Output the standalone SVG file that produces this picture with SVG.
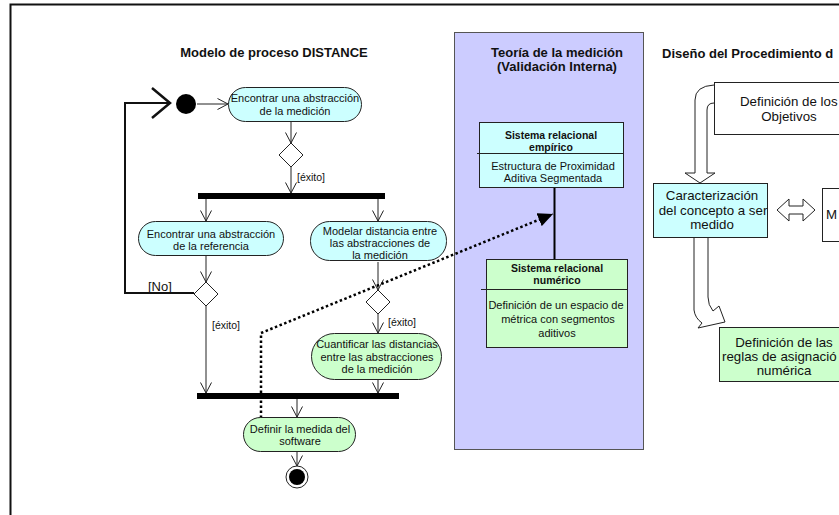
<svg xmlns="http://www.w3.org/2000/svg" width="839" height="515" viewBox="0 0 839 515">
  <style>
    text { font-family: "Liberation Sans", Arial, sans-serif; fill: #111; }
    .title { font-size: 13px; font-weight: bold; }
    .act { font-size: 11px; text-anchor: middle; }
    .guard { font-size: 10.5px; }
    .cls-h { font-size: 10.5px; font-weight: bold; text-anchor: middle; }
    .cls-b { font-size: 11px; text-anchor: middle; }
    .big { font-size: 13.3px; text-anchor: middle; }
    .cyan { fill: #ccffff; stroke: #222; stroke-width: 1; }
    .green { fill: #ccffcc; stroke: #222; stroke-width: 1; }
    .white { fill: #ffffff; stroke: #222; stroke-width: 1; }
    .flow { fill: none; stroke: #222; stroke-width: 1; marker-end: url(#open); }
    .block { fill: #ffffff; stroke: #222; stroke-width: 1; }
  </style>
  <defs>
    <marker id="open" viewBox="0 0 12 12" refX="11.5" refY="6" markerWidth="12" markerHeight="12" markerUnits="userSpaceOnUse" orient="auto">
      <path d="M1,0.5 L11.5,6 L1,11.5" fill="none" stroke="#222" stroke-width="1"/>
    </marker>
    <marker id="solid" viewBox="0 0 16 14" refX="15" refY="7" markerWidth="16" markerHeight="14" markerUnits="userSpaceOnUse" orient="auto">
      <path d="M0,0 L15,7 L0,14 Z" fill="#000"/>
    </marker>
  </defs>

  <!-- outer frame -->
  <rect x="10.5" y="4.5" width="900" height="600" fill="#ffffff" stroke="#111" stroke-width="2"/>

  <!-- measurement theory lane -->
  <rect id="lane-teoria" x="454.5" y="32.5" width="189" height="417" fill="#ccccff" stroke="#555" stroke-width="1"/>

  <!-- section titles -->
  <text class="title" x="274" y="57" text-anchor="middle">Modelo de proceso DISTANCE</text>
  <text class="title" x="557" y="57" text-anchor="middle">Teoría de la medición</text>
  <text class="title" x="557" y="71" text-anchor="middle">(Validación Interna)</text>
  <text class="title" x="662" y="58">Diseño del Procedimiento d</text>

  <!-- connectors -->
  <g id="connectors">
    <path class="flow" d="M197,104 L228,104"/>
    <path class="flow" d="M291,121 L291,143"/>
    <path class="flow" d="M291,167 L291,193"/>
    <path class="flow" d="M206,199 L206,221"/>
    <path class="flow" d="M378,199 L378,221"/>
    <path class="flow" d="M206,255 L206,282"/>
    <path class="flow" d="M378,262 L378,290"/>
    <path class="flow" d="M206,306 L206,393"/>
    <path class="flow" d="M378,314 L378,333"/>
    <path class="flow" d="M378,379 L378,393"/>
    <path class="flow" d="M297,399 L297,417"/>
    <path class="flow" d="M297,451 L297,466"/>
    <!-- [No] loop back to the start -->
    <path d="M194,293 L125,293 L125,103 L170,103" fill="none" stroke="#111" stroke-width="2"/>
    <path d="M152,88 L170,103 L152,118" fill="none" stroke="#111" stroke-width="2.5"/>
    <!-- link between software measure and numeric system -->
    <path d="M261,418 L261,333 L553,214" fill="none" stroke="#000" stroke-width="2.5" stroke-dasharray="2.5 2.5" marker-end="url(#solid)"/>
    <!-- link between the two relational systems -->
    <path d="M554.5,187 L554.5,259" stroke="#000" stroke-width="2"/>
    <!-- block arrows of the procedure design -->
    <path class="block" d="M714,85 Q695,86 695,100 L695,173 L685,173 L700,183 L715,173 L707,173 L707,110 Q707,103 714,103"/>
    <path class="block" d="M694,237 L694,310 Q695,318 702,323 L698,328 L725,322 L719,306 L713,311 Q708,305 708,297 L708,237"/>
    <path class="block" d="M777,210 L789,199 L789,206 L803,206 L803,199 L815,210 L803,221 L803,214 L789,214 L789,221 Z"/>
  </g>

  <!-- activity nodes -->
  <g id="inicio">
    <circle cx="186" cy="104" r="10" fill="#000"/>
  </g>
  <g id="act-abstraccion-medicion">
    <rect class="cyan" x="228.5" y="87.5" width="133" height="34" rx="17"/>
    <text class="act" x="295" y="102">Encontrar una abstracción</text>
    <text class="act" x="295" y="115">de la medición</text>
  </g>
  <g id="decision-1">
    <path class="white" d="M291,143 L303,155 L291,167 L279,155 Z"/>
    <text class="guard" x="297" y="181">[éxito]</text>
  </g>
  <g id="fork">
    <rect x="198" y="193" width="187" height="6" fill="#000"/>
  </g>
  <g id="act-abstraccion-referencia">
    <rect class="cyan" x="138.5" y="221.5" width="145" height="34" rx="17"/>
    <text class="act" x="211" y="238">Encontrar una abstracción</text>
    <text class="act" x="211" y="250">de la referencia</text>
  </g>
  <g id="act-modelar-distancia">
    <rect class="cyan" x="310.5" y="221.5" width="136" height="39" rx="19"/>
    <text class="act" x="380" y="235">Modelar distancia entre</text>
    <text class="act" x="380" y="247">las abstracciones de</text>
    <text class="act" x="380" y="259">la medición</text>
  </g>
  <g id="decision-2">
    <path class="white" d="M206,282 L218,294 L206,306 L194,294 Z"/>
    <text x="148" y="291" style="font-size:13px">[No]</text>
    <text class="guard" x="212" y="329">[éxito]</text>
  </g>
  <g id="decision-3">
    <path class="white" d="M378,290 L390,302 L378,314 L366,302 Z"/>
    <text class="guard" x="388" y="326">[éxito]</text>
  </g>
  <g id="act-cuantificar">
    <rect class="green" x="311.5" y="333.5" width="130" height="46" rx="23"/>
    <text class="act" x="377" y="348">Cuantificar las distancias</text>
    <text class="act" x="377" y="361">entre las abstracciones</text>
    <text class="act" x="377" y="373">de la medición</text>
  </g>
  <g id="join">
    <rect x="197" y="393" width="202" height="6" fill="#000"/>
  </g>
  <g id="act-definir-medida">
    <rect class="green" x="243.5" y="417.5" width="112" height="34" rx="17"/>
    <text class="act" x="300" y="433">Definir la medida del</text>
    <text class="act" x="300" y="445">software</text>
  </g>
  <g id="fin">
    <circle cx="297" cy="477" r="11" fill="#fff" stroke="#222" stroke-width="1"/>
    <circle cx="297" cy="477" r="8" fill="#000"/>
  </g>

  <!-- relational systems -->
  <g id="sistema-empirico">
    <rect class="cyan" x="479.5" y="122.5" width="144" height="65"/>
    <line x1="477" y1="153.5" x2="624" y2="153.5" stroke="#222" stroke-width="1"/>
    <text class="cls-h" x="551" y="139">Sistema relacional</text>
    <text class="cls-h" x="551" y="151">empírico</text>
    <text class="cls-b" x="553" y="170">Estructura de Proximidad</text>
    <text class="cls-b" x="553" y="182">Aditiva Segmentada</text>
  </g>
  <g id="sistema-numerico">
    <rect class="green" x="486.5" y="259.5" width="141" height="88"/>
    <line x1="481" y1="289.5" x2="628" y2="289.5" stroke="#222" stroke-width="1"/>
    <text class="cls-h" x="557" y="272">Sistema relacional</text>
    <text class="cls-h" x="557" y="284">numérico</text>
    <text class="cls-b" x="556" y="309">Definición de un espacio de</text>
    <text class="cls-b" x="558" y="323">métrica con segmentos</text>
    <text class="cls-b" x="557" y="337">aditivos</text>
  </g>

  <!-- procedure design -->
  <g id="definicion-objetivos">
    <rect class="white" x="714.5" y="82.5" width="200" height="52"/>
    <text x="740" y="106" style="font-size:13.3px">Definición de los</text>
    <text class="big" x="789" y="121">Objetivos</text>
  </g>
  <g id="caracterizacion">
    <rect class="cyan" x="653.5" y="183.5" width="114" height="54"/>
    <text class="big" x="712" y="200">Caracterización</text>
    <text class="big" x="713" y="215">del concepto a ser</text>
    <text class="big" x="712" y="229">medido</text>
  </g>
  <g id="modelo-m">
    <rect class="white" x="822.5" y="188.5" width="100" height="53"/>
    <text x="826" y="219" style="font-size:13.3px">M</text>
  </g>
  <g id="definicion-reglas">
    <rect class="green" x="719.5" y="327.5" width="200" height="54"/>
    <text class="big" x="784" y="347">Definición de las</text>
    <text x="722" y="361" style="font-size:13.3px">reglas de asignació</text>
    <text class="big" x="784" y="375">numérica</text>
  </g>
</svg>
